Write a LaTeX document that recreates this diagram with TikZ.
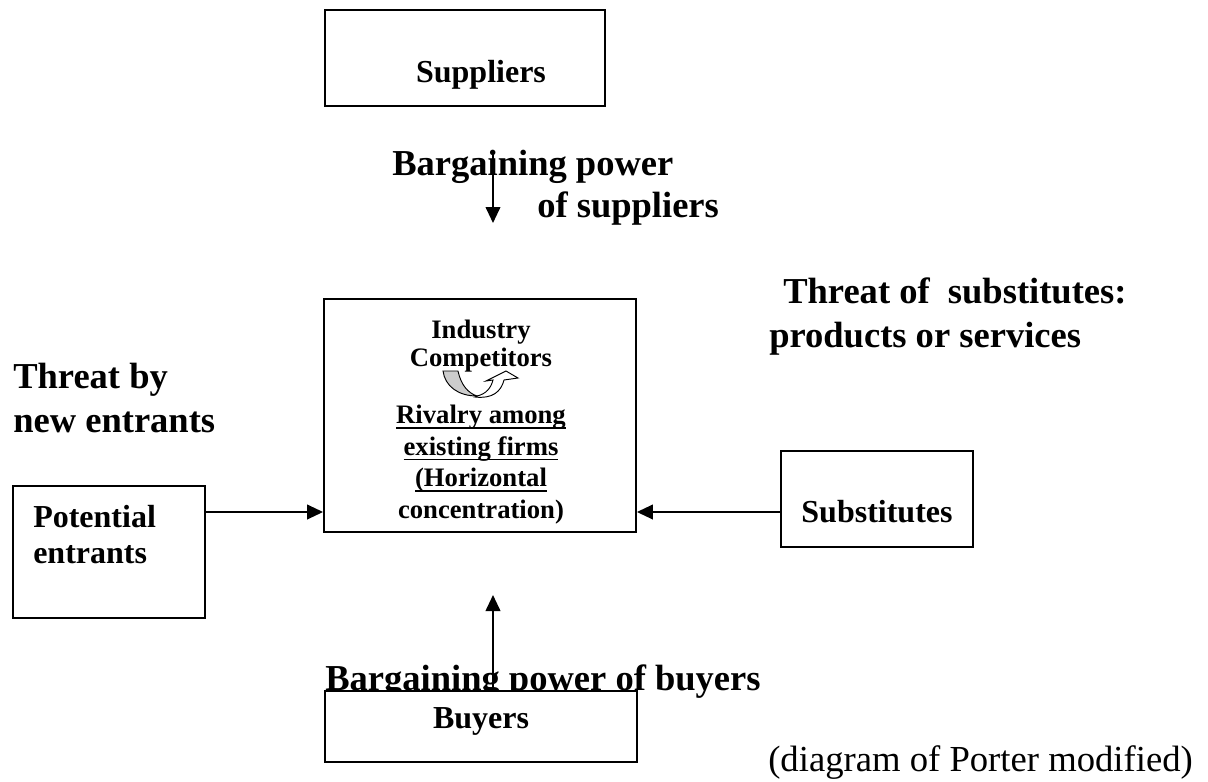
\documentclass[tikz,border=0pt]{standalone}
\usepackage{fontspec}
\setmainfont{Liberation Serif}
\usepackage{tikz}
\usetikzlibrary{positioning}
\usetikzlibrary{arrows.meta}
\newcommand{\undl}[1]{\setbox0\hbox{#1}\rlap{\rule[-3.9pt]{\wd0}{1.2pt}}\box0}

\begin{document}
\begin{tikzpicture}[x=0.75pt, y=-0.75pt,
    box/.style={shape=rectangle, draw=black, fill=white, line width=1.4pt, inner sep=0pt},
    bigtext/.style={font=\fontsize{27.4pt}{33pt}\selectfont\bfseries, inner sep=0pt},
    boxtext/.style={font=\fontsize{24pt}{27pt}\selectfont\bfseries, inner sep=0pt},
    midtext/.style={font=\fontsize{20pt}{23.6pt}\selectfont\bfseries, inner sep=0pt},
    arr/.style={line width=1.4pt, -{Triangle[length=12pt, width=11pt]}}]
    \useasboundingbox (0,0) rectangle (1208,782);

    \node[bigtext, anchor=base west, align=left] (newlab) at (13,432) {Threat by\\new entrants};
    \node[bigtext, anchor=base west, align=left, font=\fontsize{27.4pt}{31.5pt}\selectfont\bfseries] (suplab) at (392,217) {Bargaining power\\\hspace*{108.75pt}of suppliers};
    \node[bigtext, anchor=base west, align=left, font=\fontsize{27.4pt}{32.5pt}\selectfont\bfseries] (sublab) at (769,347) {\hspace*{10.5pt}Threat of\ \ substitutes:\\products or services};
    \node[bigtext, anchor=base west] (buylab) at (325,690) {Bargaining power of buyers};
    \node[font=\fontsize{27.5pt}{33pt}\selectfont, inner sep=0pt, anchor=base west] (note) at (768,771) {(diagram of Porter modified)};

    \node[box, minimum width=210pt, minimum height=72pt] (sup) at (465,58) {};
    \node[box, minimum width=234pt, minimum height=174.75pt] (ind) at (480,415.5) {};
    \node[box, minimum width=144pt, minimum height=99pt] (pot) at (109,552) {};
    \node[box, minimum width=144pt, minimum height=72pt] (sub) at (877,499) {};
    \node[box, minimum width=234pt, minimum height=53.25pt] (buy) at (481,726.5) {};

    \node[boxtext, anchor=base] (suptext) at (481,82) {Suppliers};
    \node[boxtext, anchor=base west, align=left] (pottext) at (33,563) {Potential\\entrants};
    \node[boxtext, anchor=base] (subtext) at (877,522) {Substitutes};
    \node[boxtext, anchor=base] (buytext) at (481,728) {Buyers};
    \node[midtext, anchor=base, align=center, font=\fontsize{20pt}{21pt}\selectfont\bfseries] (indtext) at (481,366) {Industry\\Competitors};
    \node[midtext, anchor=base, align=center] (rivtext) at (481,518) {\undl{Rivalry among}\\\undl{existing firms}\\\undl{(Horizontal}\\concentration)};

    \filldraw[fill=gray!40, draw=black, line width=0.7pt] (443,371) -- (458,371) .. controls (461,385) and (468,393) .. (477,396) .. controls (458,396) and (445,386) .. (443,371) -- cycle;
    \filldraw[fill=white, draw=black, line width=0.7pt] (477,396) .. controls (486,394) and (491,388) .. (493,380) -- (486,381) -- (506,371) -- (518,378) -- (504,380) .. controls (501,392) and (492,399) .. (475,397) -- cycle;

    \coordinate (supfrom) at (493,150);
    \coordinate (supto) at (493,223);
    \coordinate (buytip) at (493,595);
    \draw[arr] (supfrom) -- (supto);
    \draw[arr] ([yshift=30pt]pot.east) coordinate (e1) -- (ind.west |- e1);
    \draw[arr] ([yshift=-9.75pt]sub.west) coordinate (s1) -- (ind.east |- s1);
    \draw[arr] ([xshift=9pt]buy.north) -- (buytip);
\end{tikzpicture}
\end{document}
